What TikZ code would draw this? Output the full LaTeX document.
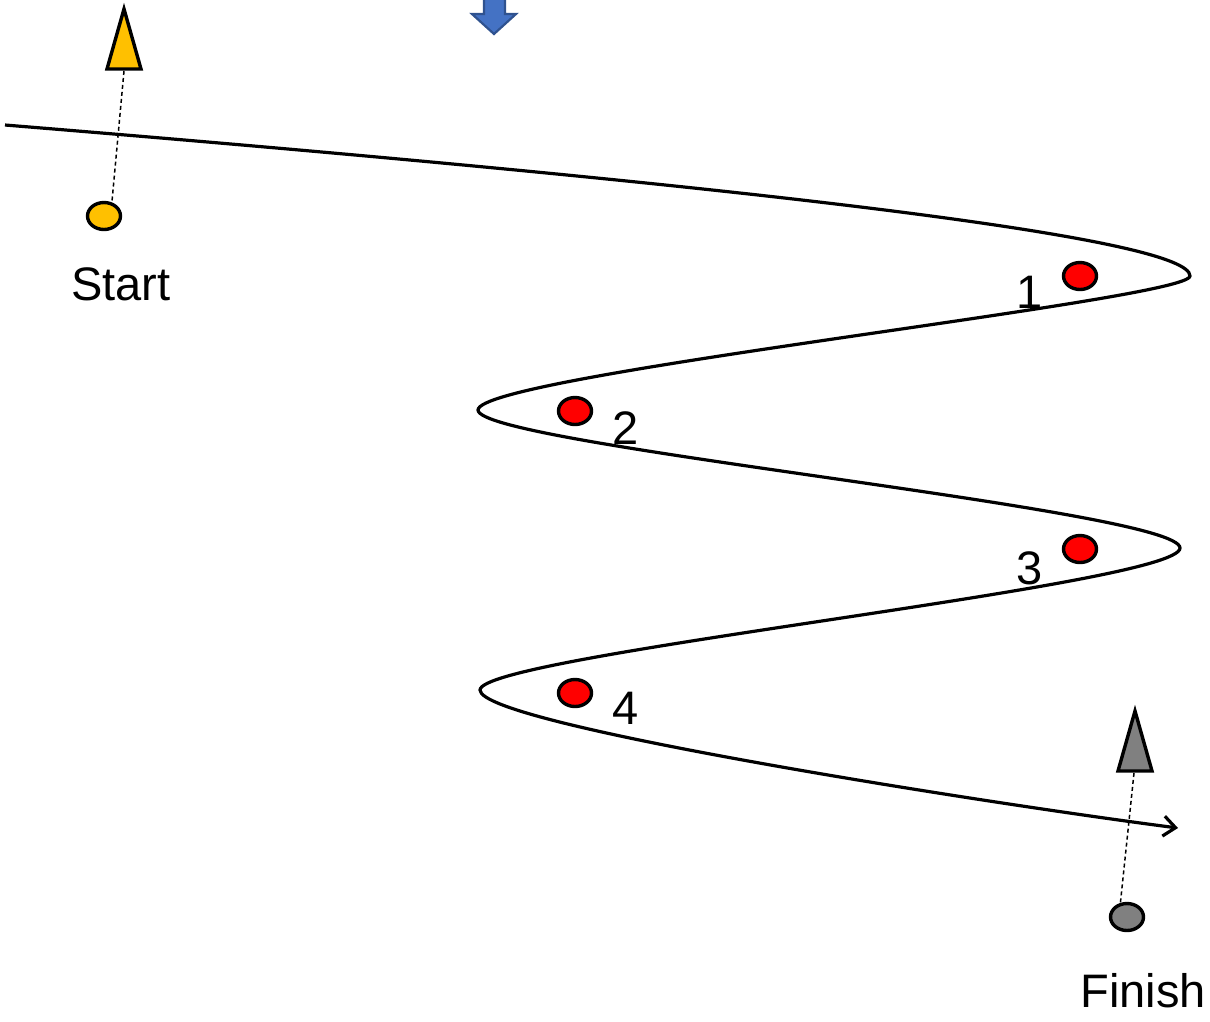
\documentclass[tikz,border=0pt]{standalone}
\usepackage{fontspec}
\setmainfont{Liberation Sans}
\usetikzlibrary{arrows.meta, positioning, shapes.geometric}
\definecolor{startyellow}{HTML}{FFC000}
\definecolor{finishgray}{HTML}{808080}
\definecolor{gatered}{HTML}{FF0000}
\definecolor{windblue}{HTML}{4472C4}
\definecolor{windedge}{HTML}{2F528F}

\begin{document}
\begin{tikzpicture}[
	x=1pt, y=-1pt,
	every node/.style={font=\fontsize{47}{56}\selectfont},
	dot/.style={draw, ellipse, line width=3.4pt, minimum width=33pt, minimum height=27pt, inner sep=0pt},
	course/.style={line width=3.2pt, -{Straight Barb[length=12pt, width=20pt]}},
	guide/.style={dash pattern=on 4pt off 3pt, line width=1.5pt},
	marker/.style={draw, line width=3.4pt, line join=miter}
	]
	
	\useasboundingbox (0,0) rectangle (1210,1021);
	\clip (0,0) rectangle (1210,1021);
	
	% Wind arrow (cut at the top)
	\draw[fill=windblue, draw=windedge, line width=2.2pt, line join=miter]
	(484,-5) -- (484,14) -- (472,14) -- (494,34) -- (516,14) -- (505,14) -- (505,-5) -- cycle;
	
	% Start and finish marks
	\draw[marker, fill=startyellow] (124,9) -- (141,69) -- (107,69) -- cycle;
	\coordinate (ts) at (124,71);
	\node[dot, fill=startyellow] (sdot) at (104,216) {};
	\node (start) [below=33pt of sdot, xshift=17pt] {Start};
	
	\draw[marker, fill=finishgray] (1135,711) -- (1152,771) -- (1118,771) -- cycle;
	\coordinate (tf) at (1134,773);
	\node[dot, fill=finishgray] (fdot) at (1127,917) {};
	\node (finish) [below=38pt of fdot, xshift=16pt] {Finish};
	
	\draw[guide] (ts) -- (sdot.60);
	\draw[guide] (tf) -- (fdot.115);
	
	% Gates
	\node[dot, fill=gatered] (d1) at (1080,276) {};
	\node[dot, fill=gatered] (d2) at (575,411) {};
	\node[dot, fill=gatered] (d3) at (1080,549) {};
	\node[dot, fill=gatered] (d4) at (575,693) {};
	\node (n1) [left=16pt of d1, yshift=-16pt] {1};
	\node (n2) [right=16pt of d2, yshift=-17pt] {2};
	\node (n3) [left=16pt of d3, yshift=-19pt] {3};
	\node (n4) [right=16pt of d4, yshift=-15pt] {4};
	
	% Course
	\draw[course] (5,125)
	.. controls (800,190) and (1190,240) .. (1190,276)
	.. controls (1190,300) and (478,375) .. (478,410)
	.. controls (478,445) and (1180,510) .. (1180,548)
	.. controls (1180,585) and (480,655) .. (480,690)
	.. controls (480,725) and (1000,805) .. (1178,828);
	
\end{tikzpicture}
\end{document}
